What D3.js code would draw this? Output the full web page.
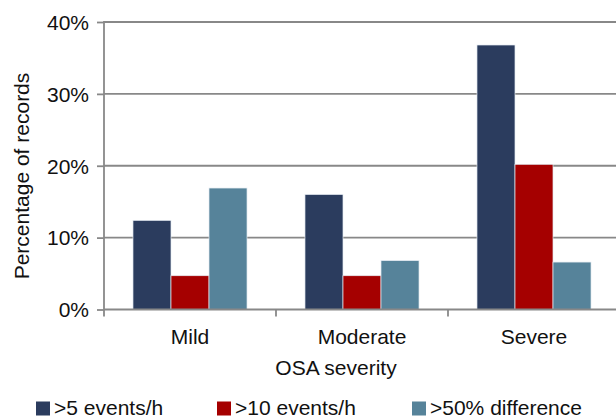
<!DOCTYPE html>
<html>
<head>
<meta charset="utf-8">
<script src="https://cdn.jsdelivr.net/npm/d3@7"></script>
<style>
  html, body { margin: 0; padding: 0; background: #fff; }
  svg { display: block; font-family: "Liberation Sans", Arial, sans-serif; }
</style>
</head>
<body>
<svg id="chart" width="616" height="418"></svg>
<script>
const categories = ["Mild", "Moderate", "Severe"];
const seriesNames = [">5 events/h", ">10 events/h", ">50% difference"];
const seriesColors = ["#2b3c5e", "#a50000", "#56839a"];
const events5 = [12.4, 16.0, 36.8];
const events10 = [4.7, 4.7, 20.2];
const diff50 = [16.9, 6.8, 6.6];
const yTicks = [0, 10, 20, 30, 40];
const yTickLabels = ["0%", "10%", "20%", "30%", "40%"];
const yTitle = "Percentage of records";
const xTitle = "OSA severity";

const seriesValues = [events5, events10, diff50];

const svg = d3.select("#chart");
const plotLeft = 104, plotRight = 620, plotTop = 22, plotBottom = 309.5;
const fs = 21;

const x0 = d3.scaleBand().domain(categories).range([plotLeft, plotRight]).padding(0);
const bw = x0.bandwidth();
const groupW = bw * 0.663;
const x1 = d3.scaleBand().domain(d3.range(seriesNames.length))
  .range([(bw - groupW) / 2, (bw + groupW) / 2]).padding(0);
const y = d3.scaleLinear().domain([0, 40]).range([plotBottom, plotTop]);

// gridlines
svg.append("g").selectAll("line").data(yTicks.filter(d => d > 0)).join("line")
  .attr("x1", plotLeft).attr("x2", 616)
  .attr("y1", d => y(d)).attr("y2", d => y(d))
  .attr("stroke", "#888").attr("stroke-width", 1.8);

// bars
const groups = svg.append("g").selectAll("g").data(categories).join("g")
  .attr("transform", c => `translate(${x0(c)},0)`);
groups.selectAll("rect")
  .data((c, ci) => seriesValues.map((vals, si) => ({si, v: vals[ci]})))
  .join("rect")
  .attr("x", d => x1(d.si))
  .attr("width", x1.bandwidth())
  .attr("y", d => y(d.v))
  .attr("height", d => plotBottom - y(d.v))
  .attr("fill", d => seriesColors[d.si])
  .attr("stroke", "#e6ecf2").attr("stroke-width", 0.7);

// y axis
const yAxis = d3.axisLeft(y).tickValues(yTicks)
  .tickFormat((d, i) => yTickLabels[i]).tickSize(7).tickPadding(8);
const gy = svg.append("g").attr("transform", `translate(${plotLeft},0)`).call(yAxis);
gy.select(".domain").attr("stroke", "#888").attr("stroke-width", 1.8)
  .attr("d", `M0,${plotTop - 1}V${plotBottom + 7}`);
gy.selectAll(".tick line").attr("stroke", "#888").attr("stroke-width", 1.8);
gy.selectAll(".tick text").attr("font-size", fs).attr("fill", "#111")
  .attr("font-family", "Liberation Sans, Arial, sans-serif").attr("dy", "0.35em");

// x axis
const xAxis = d3.axisBottom(x0).tickSize(0).tickPadding(0);
const gx = svg.append("g").attr("transform", `translate(0,${plotBottom})`).call(xAxis);
gx.select(".domain").attr("stroke", "#888").attr("stroke-width", 1.8)
  .attr("d", `M${plotLeft},0H616`);
gx.selectAll(".tick text").attr("font-size", fs).attr("fill", "#111")
  .attr("font-family", "Liberation Sans, Arial, sans-serif")
  .attr("y", 34.5).attr("dy", 0);
// category boundary ticks
svg.append("g").selectAll("line").data(categories.slice(1)).join("line")
  .attr("x1", c => x0(c)).attr("x2", c => x0(c))
  .attr("y1", plotBottom).attr("y2", plotBottom + 7)
  .attr("stroke", "#888").attr("stroke-width", 1.8);

// axis titles
svg.append("text").attr("x", 336).attr("y", 375).attr("text-anchor", "middle")
  .attr("font-size", fs).attr("fill", "#111").text(xTitle);
svg.append("text").attr("transform", `translate(29,176) rotate(-90)`)
  .attr("text-anchor", "middle").attr("font-size", fs).attr("fill", "#111").text(yTitle);

// legend
const legendX = [36, 217, 412];
const lg = svg.append("g").selectAll("g").data(seriesNames).join("g")
  .attr("transform", (d, i) => `translate(${legendX[i]},0)`);
lg.append("rect").attr("x", 0).attr("y", 401.5).attr("width", 14).attr("height", 14)
  .attr("fill", (d, i) => seriesColors[i]);
lg.append("text").attr("x", 18).attr("y", 415).attr("font-size", fs).attr("fill", "#111")
  .text(d => d);
</script>
</body>
</html>
